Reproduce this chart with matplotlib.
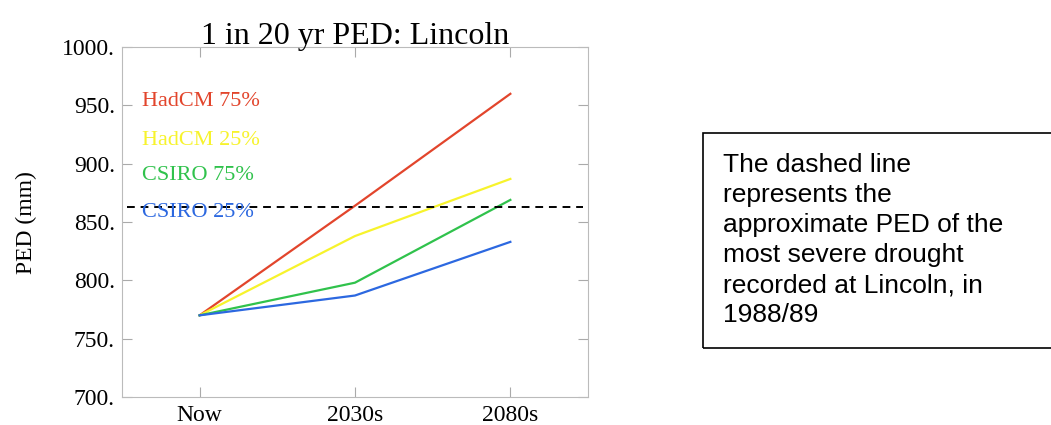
import matplotlib
matplotlib.use("Agg")
import matplotlib.pyplot as plt

periods = ["Now", "2030s", "2080s"]
series_names = ["HadCM 75%", "HadCM 25%", "CSIRO 75%", "CSIRO 25%"]
hadcm_75 = [770, 864, 960]
hadcm_25 = [770, 838, 887]
csiro_75 = [770, 798, 869]
csiro_25 = [770, 787, 833]
drought_ped = 863
colors = ["#e2452c", "#f7f32c", "#30c24c", "#2c68e0"]
yticks = [700, 750, 800, 850, 900, 950, 1000]

serif = ["Liberation Serif", "DejaVu Serif"]

fig = plt.figure(figsize=(10.51, 4.25), dpi=100)
ax = fig.add_axes([0.116, 0.066, 0.4435, 0.823])

x = list(range(len(periods)))
for vals, c in zip([hadcm_75, hadcm_25, csiro_75, csiro_25], colors):
    ax.plot(x, vals, color=c, lw=1.6)

ax.axhline(drought_ped, xmin=0.01, xmax=0.99, color="black", lw=1.4,
           ls=(0, (4, 3)))

# coloured labels acting as a legend
label_y = [953, 920, 890, 858]
for name, c, ly in zip(series_names, colors, label_y):
    ax.text(-0.37, ly, name, color=c, fontsize=16, family=serif, va="center")

ax.set_xlim(-0.5, 2.5)
ax.set_ylim(700, 1000)
ax.set_xticks(x)
ax.set_xticklabels(periods, family=serif, fontsize=17)
ax.set_yticks(yticks)
ax.set_yticklabels([f"{v}." for v in yticks], family=serif, fontsize=17)
ax.tick_params(direction="in", length=7, color="#aaaaaa", top=True,
               right=True)
ax.tick_params(axis="y", pad=5)
ax.tick_params(axis="x", pad=6)
for s in ax.spines.values():
    s.set_color("#bbbbbb")
ax.set_title("1 in 20 yr PED: Lincoln", family=serif, fontsize=23, pad=2)
ax.set_ylabel("PED (mm)", family=serif, fontsize=17, labelpad=18)

note = ("The dashed line\nrepresents the\napproximate PED of the\n"
        "most severe drought\nrecorded at Lincoln, in\n1988/89")
fig.text(0.688, 0.64, note, family=["Liberation Sans", "DejaVu Sans"],
         fontsize=19, va="top", ha="left", linespacing=1.32)
box = plt.Rectangle((0.669, 0.181), 0.34, 0.506, transform=fig.transFigure,
                    fill=False, edgecolor="black", lw=1.2)
fig.patches.append(box)

fig.savefig("out.png", dpi=100)
